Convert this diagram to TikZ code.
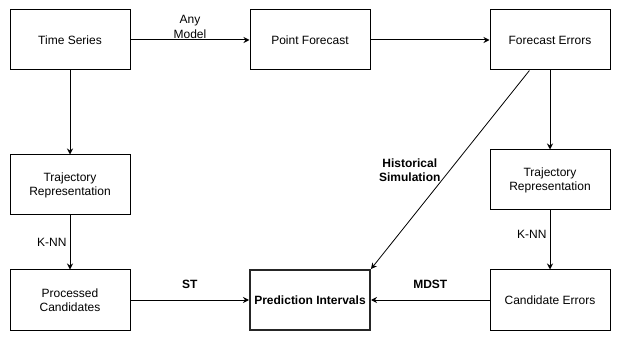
\documentclass[tikz,border=0pt]{standalone}
\usepackage{fontspec}
\setmainfont{Liberation Sans}
\usepackage{tikz}
\usetikzlibrary{arrows.meta,positioning,calc}

\tikzset{
  stepbox/.style={draw, line width=1pt, minimum width=120pt, minimum height=60pt,
    align=center, inner sep=2pt, font=\fontsize{12}{14}\selectfont},
  resultbox/.style={stepbox, draw=black!85, line width=2pt, font=\fontsize{12}{14}\selectfont\bfseries},
  flow/.style={-{Stealth[length=6pt,width=6pt]}, line width=1pt},
  lbl/.style={font=\fontsize{12}{14}\selectfont, align=center},
  boldlbl/.style={lbl, font=\fontsize{12}{14}\selectfont\bfseries}
}

\begin{document}
\begin{tikzpicture}[x=1pt,y=-1pt]
    \useasboundingbox (0,0) rectangle (622,342);
    % Top row
    \node[stepbox] (series) at (70,40) {Time Series};
    \node[stepbox] (point) at (310,40) {Point Forecast};
    \node[stepbox] (errors) at (550,40) {Forecast Errors};
    % Middle row
    \node[stepbox] (trajleft) at (70,185) {Trajectory\\Representation};
    \node[stepbox] (trajright) at (550,180) {Trajectory\\Representation};
    % Bottom row
    \node[stepbox] (processed) at (70,300) {Processed\\Candidates};
    \node[resultbox] (intervals) at (310,300) {Prediction Intervals};
    \node[stepbox] (candidates) at (550,300) {Candidate Errors};
    % Arrows
    \draw[flow] (series) -- (point)
      node[midway, above, lbl, font=\fontsize{12}{15}\selectfont, inner sep=1pt] {Any\\Model};
    \draw[flow] (point) -- (errors);
    \draw[flow] (series) -- (trajleft);
    \draw[flow] (trajleft) -- (processed) node[midway, left, lbl, inner sep=3pt] {K-NN};
    \draw[flow] (errors) -- (trajright);
    \draw[flow] (trajright) -- (candidates) node[pos=0.4, left, lbl, inner sep=3pt] {K-NN};
    \draw[flow] (processed) -- (intervals) node[midway, above=8pt, boldlbl] {ST};
    \draw[flow] (candidates) -- (intervals) node[midway, above=8pt, boldlbl] {MDST};
    \draw[flow, line width=0.8pt] (errors.236) -- (intervals.north east)
      node[pos=0.5, left=6pt, boldlbl] {Historical\\Simulation};
\end{tikzpicture}
\end{document}
